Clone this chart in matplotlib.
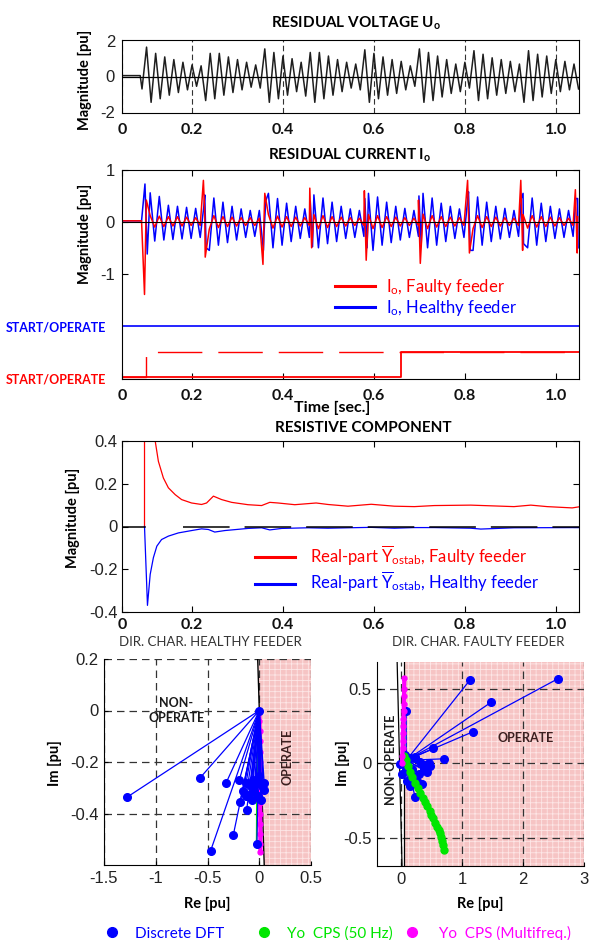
import numpy as np
import matplotlib
matplotlib.use('Agg')
import matplotlib.pyplot as plt
from matplotlib.lines import Line2D

plt.rcParams['font.family'] = ['Lato', 'DejaVu Sans']
plt.rcParams['mathtext.fontset'] = 'custom'
plt.rcParams['mathtext.rm'] = 'Lato'
plt.rcParams['mathtext.it'] = 'Lato:italic'
plt.rcParams['mathtext.bf'] = 'Lato:bold'
plt.rcParams['hatch.linewidth'] = 0.6

# ---------------- data ----------------
T0, T1 = 0.046, 1.051
time_ticks = [T0, 0.2, 0.4, 0.6, 0.8, 1.0]
time_labels = ['0', '0.2', '0.4', '0.6', '0.8', '1.0']

# residual voltage, extreme value of every half cycle
u_pre_t = [0.046, 0.086]
u_pre = [0.05, 0.05]
u_peaks = [1.65, 1.30, 1.10, 0.95, 0.80, 0.65, 0.60,
           1.30, 1.30, 1.10, 0.95, 0.80, 0.65,
           1.55, 1.35, 1.15, 1.00, 0.80,
           1.35, 1.35, 1.15, 0.95, 0.80, 0.70,
           1.50, 1.30, 1.10, 0.95, 0.85, 0.60,
           1.55, 1.35, 1.15, 0.95, 0.70, 0.80,
           1.45, 1.25, 1.05, 0.95, 0.85, 0.70,
           1.45, 1.25, 1.15, 0.95, 0.85, 0.70]
u_troughs = [-0.70,
             -1.45, -1.25, -1.05, -0.90, -0.75, -0.55, -1.35,
             -1.25, -1.05, -0.90, -0.75, -0.60, -0.65,
             -1.45, -1.25, -1.05, -0.85, -1.10,
             -1.45, -1.25, -1.05, -0.85, -0.65, -0.75,
             -1.45, -1.25, -1.05, -0.95, -0.75, -0.55,
             -1.45, -1.35, -1.15, -0.95, -0.85, -0.65,
             -1.35, -1.25, -1.05, -0.95, -0.85, -1.45,
             -1.35, -1.15, -0.95, -0.85, -0.75, -0.70]

# residual currents
i_pre_t = [0.046, 0.089]
i_pre = [0.02, 0.02]
ih_peaks = [0.56, 0.49, 0.32, 0.30, 0.28, 0.26,
            0.52, 0.46, 0.38, 0.30, 0.25, 0.22, 0.22,
            0.55, 0.45, 0.36, 0.30, 0.25,
            0.52, 0.46, 0.38, 0.30, 0.25, 0.22,
            0.55, 0.48, 0.38, 0.30, 0.26, 0.22,
            0.55, 0.46, 0.36, 0.30, 0.25,
            0.58, 0.48, 0.38, 0.30, 0.26, 0.22,
            0.55, 0.46, 0.36, 0.30, 0.25, 0.22,
            0.45]
ih_troughs = [-0.37, -0.35, -0.34, -0.33, -0.32, -0.30,
              -0.55, -0.45, -0.40, -0.35, -0.30, -0.28, -0.28,
              -0.50, -0.45, -0.38, -0.32, -0.30,
              -0.50, -0.42, -0.38, -0.32, -0.30, -0.28,
              -0.55, -0.45, -0.40, -0.35, -0.30, -0.28,
              -0.50, -0.45, -0.38, -0.32, -0.30,
              -0.55, -0.45, -0.38, -0.33, -0.30, -0.28,
              -0.50, -0.45, -0.38, -0.32, -0.30, -0.28]
if_peaks = [0.12, 0.11, 0.10, 0.10, 0.09, 0.08,
            0.15, 0.12, 0.10, 0.09, 0.08, 0.08, 0.07,
            0.14, 0.11, 0.10, 0.09, 0.08,
            0.14, 0.12, 0.10, 0.09, 0.08, 0.07,
            0.14, 0.12, 0.10, 0.09, 0.08, 0.07,
            0.15, 0.12, 0.10, 0.09, 0.08,
            0.14, 0.12, 0.10, 0.09, 0.08, 0.07,
            0.14, 0.12, 0.10, 0.09, 0.08, 0.07,
            0.10]
if_troughs = [-0.10, -0.09, -0.08, -0.08, -0.07, -0.07,
              -0.14, -0.11, -0.09, -0.08, -0.07, -0.07, -0.06,
              -0.12, -0.10, -0.09, -0.08, -0.07,
              -0.13, -0.11, -0.09, -0.08, -0.07, -0.07,
              -0.13, -0.11, -0.09, -0.08, -0.07, -0.07,
              -0.13, -0.10, -0.09, -0.08, -0.07,
              -0.13, -0.11, -0.09, -0.08, -0.07, -0.07,
              -0.12, -0.10, -0.09, -0.08, -0.07, -0.07]
spike_t = [0.0955, 0.225, 0.356, 0.459, 0.579, 0.698, 0.806, 0.923, 1.043]
if_spike_a = [-1.40, 0.80, -0.82, 0.65, 0.60, 0.42, 0.80, 0.80, 0.62]
if_spike_b = [0.42, -0.68, 0.55, -0.50, -0.74, -0.80, -0.60, -0.55, -0.60]
ih_spike_a = [0.73, 0.30, -0.55, 0.40, 0.45, 0.50, 0.50, 0.45, 0.45]
ih_spike_b = [-0.62, -0.50, 0.40, -0.48, -0.50, -0.42, -0.55, -0.42, -0.50]

# start / operate signals (0 = off, 1 = on)
start_t = [T0, 0.099, T1]
start_state = [0, 1, 1]
operate_t = [T0, 0.659, T1]
operate_state = [0, 1, 1]
healthy_t = [T0, T1]
healthy_state = [0, 0]

# resistive component
res_f_t = [0.0955, 0.0956, 0.105, 0.119, 0.126, 0.137, 0.148, 0.163, 0.177, 0.199,
           0.221, 0.232, 0.247, 0.265, 0.287, 0.323, 0.353, 0.371, 0.389, 0.426,
           0.473, 0.499, 0.543, 0.594, 0.645, 0.689, 0.733, 0.813, 0.908, 0.945,
           0.981, 1.036, 1.051]
res_f = [0.0, 1.50, 0.70, 0.40, 0.305, 0.227, 0.181, 0.149, 0.126, 0.110,
         0.103, 0.110, 0.142, 0.126, 0.113, 0.102, 0.098, 0.113, 0.110, 0.102,
         0.110, 0.103, 0.095, 0.104, 0.095, 0.093, 0.098, 0.100, 0.093, 0.100,
         0.093, 0.087, 0.092]
res_h_t = [0.0955, 0.102, 0.108, 0.115, 0.1226, 0.133, 0.148, 0.170, 0.199, 0.221,
           0.236, 0.250, 0.272, 0.323, 0.353, 0.371, 0.397, 0.455, 0.499, 0.543,
           0.594, 0.645, 0.689, 0.733, 0.813, 0.835, 0.908, 1.051]
res_h = [0.0, -0.369, -0.224, -0.146, -0.092, -0.061, -0.045, -0.030, -0.019, -0.011,
         -0.014, -0.026, -0.019, -0.009, -0.006, -0.016, -0.009, -0.006, -0.008, -0.006,
         -0.004, -0.008, -0.005, -0.005, -0.008, -0.012, -0.006, -0.005]
res_zero_solid_t = [T0, 0.0955]
res_zero_dash_t = [0.181, T1]

# directional characteristic, healthy feeder
h_hub = (0.0, 0.0)
h_dft_re = [0.0, -1.275, -0.577, -0.32, -0.471, -0.25, -0.121, -0.186, -0.022, 0.016,
            -0.192, -0.128, -0.080, -0.048, -0.096, -0.160, -0.032, 0.048, 0.042,
            -0.016, -0.128, -0.064, 0.0, 0.022, -0.074]
h_dft_im = [0.0, -0.336, -0.264, -0.281, -0.546, -0.482, -0.385, -0.355, -0.517, -0.349,
            -0.269, -0.281, -0.294, -0.314, -0.327, -0.314, -0.281, -0.281, -0.307,
            -0.333, -0.333, -0.269, -0.256, -0.294, -0.346]
h_cps_re = [-0.005, -0.012, -0.018, -0.022, -0.025, -0.026, -0.027]
h_cps_im = [0.0, -0.10, -0.20, -0.30, -0.40, -0.48, -0.52]
h_mf_re = [0.0, 0.002, 0.004, 0.005, 0.006, 0.007, 0.008, 0.008, 0.009, 0.009,
           0.010, 0.010, 0.011, 0.011, 0.012]
h_mf_im = [0.0, -0.04, -0.08, -0.12, -0.16, -0.20, -0.24, -0.28, -0.32, -0.36,
           -0.40, -0.44, -0.48, -0.52, -0.55]
h_bound_re = [-0.015, 0.048]
h_bound_im = [0.2, -0.6]

# directional characteristic, faulty feeder
f_hub = (0.09, 0.02)
f_dft_re = [2.57, 1.136, 1.48, 1.19, 0.535, 0.715, 0.087, -0.02, 0.016, 0.087,
            0.109, 0.153, 0.235, 0.344, 0.208, 0.29, 0.372, 0.454, 0.426, 0.317,
            0.235, 0.153, 0.07, 0.1, 0.18, 0.26, 0.4, 0.48]
f_dft_im = [0.567, 0.561, 0.41, 0.213, 0.10, 0.03, 0.348, -0.004, -0.072, -0.04,
            -0.119, -0.152, -0.229, -0.139, -0.094, -0.072, -0.04, 0.004, -0.058, 0.011,
            0.045, 0.034, 0.056, 0.0, -0.04, -0.12, -0.01, -0.02]
f_cps_re = [0.06, 0.087, 0.12, 0.153, 0.19, 0.235, 0.275, 0.317, 0.36, 0.40, 0.435,
            0.47, 0.50, 0.535, 0.565, 0.59, 0.62, 0.645, 0.66, 0.672, 0.685, 0.70]
f_cps_im = [0.05, 0.02, -0.02, -0.06, -0.095, -0.13, -0.165, -0.20, -0.23, -0.26, -0.29,
            -0.32, -0.345, -0.37, -0.40, -0.43, -0.45, -0.47, -0.495, -0.52, -0.55, -0.585]
f_mf_re = [0.02, 0.025, 0.03, 0.033, 0.036, 0.04, 0.043, 0.046, 0.05, 0.052, 0.055, 0.057]
f_mf_im = [0.0, 0.05, 0.10, 0.15, 0.20, 0.25, 0.30, 0.35, 0.40, 0.45, 0.50, 0.57]
f_bound_re = [-0.06, 0.02]
f_bound_im = [0.68, -0.69]
f_region_re = 0.055

legend_labels = ['Discrete DFT' + '\u00a0' * 5, 'Yo  CPS (50 Hz)',
                 '\u00a0Yo  CPS (Multifreq.)']

RED, BLUE, GREEN, MAG = '#ff0000', '#0000ff', '#00e600', '#ff00ff'
PINK, PINK_HATCH = '#f6c4c4', '#fde6e6'


def merge(*parts):
    t = np.concatenate([np.asarray(p[0], float) for p in parts])
    v = np.concatenate([np.asarray(p[1], float) for p in parts])
    order = np.argsort(t, kind='stable')
    return t[order], v[order]


W, H = 590, 940
fig = plt.figure(figsize=(W / 100, H / 100), dpi=100)


def rect(l, t, r, b):
    return [l / W, 1 - b / H, (r - l) / W, (b - t) / H]


def ftext(x, y, s, **kw):
    fig.text(x / W, 1 - y / H, s, ha=kw.pop('ha', 'center'), va=kw.pop('va', 'center'), **kw)


def time_axis(ax, pad):
    ax.set_xlim(T0, T1)
    ax.set_xticks(time_ticks, time_labels)
    plt.setp(ax.get_xticklabels(), fontweight='bold', fontsize=11.5, color='#111111')
    ax.tick_params(axis='x', pad=pad)


num_font = dict(family='Liberation Sans', fontsize=12, color='#222222')

# ---------------- residual voltage ----------------
ax1 = fig.add_axes(rect(122, 40, 579, 113))
n = np.arange
u_t, u_v = merge((u_pre_t, u_pre),
                 (0.10 + 0.02 * n(len(u_peaks)), u_peaks),
                 (0.09 + 0.02 * n(len(u_troughs)), u_troughs))
ax1.plot(u_t, u_v, color='#1e1e1e', lw=1.1)
ax1.axhline(0, color='k', lw=0.9)
ax1.set_ylim(-2.05, 2.05)
ax1.set_yticks([-2, 0, 2], ['-2', '0', '2'], **num_font)
time_axis(ax1, 7)
ax1.grid(axis='x', ls=(0, (5, 3)), color='#333333', lw=0.8)
ax1.tick_params(length=0)
ax1.tick_params(axis='y', pad=5)

# ---------------- residual current ----------------
ax2 = fig.add_axes(rect(122, 170, 579, 379))
pk_t = 0.108 + 0.02 * n(len(ih_peaks))
tr_t = 0.118 + 0.02 * n(len(ih_troughs))
sp = np.asarray(spike_t)
ih_t, ih_v = merge((i_pre_t, i_pre), (pk_t, ih_peaks), (tr_t, ih_troughs),
                   (sp + 0.001, ih_spike_a), (sp + 0.006, ih_spike_b))
if_t, if_v = merge((i_pre_t, i_pre), (pk_t, if_peaks), (tr_t, if_troughs),
                   (sp, if_spike_a), (sp + 0.004, if_spike_b))
ax2.plot(ih_t, ih_v, color=BLUE, lw=1.1)
ax2.plot(if_t, if_v, color=RED, lw=1.1)
ax2.axhline(0, color='k', lw=0.8, zorder=3)

# start / operate traces
ax2.plot(healthy_t, -2.0 + 0.5 * np.asarray(healthy_state), color=BLUE, lw=1.2,
         drawstyle='steps-post')
ax2.plot(start_t, -3.0 + 0.5 * np.asarray(start_state), color=RED, lw=1.0,
         drawstyle='steps-post', dashes=(32, 11.5))
ax2.plot(operate_t, -3.0 + 0.5 * np.asarray(operate_state), color=RED, lw=1.3,
         drawstyle='steps-post')

ax2.set_ylim(-3.03, 1.0)
ax2.set_yticks([-1, 0, 1], ['-1', '0', '1'], **num_font)
time_axis(ax2, 7)
ax2.tick_params(direction='in', top=True, right=True, length=4)
ax2.tick_params(axis='y', pad=5)
ax2.legend([Line2D([], [], color=RED, lw=2.2), Line2D([], [], color=BLUE, lw=2.2)],
           [r'$\mathrm{I_o}$, Faulty feeder', r'$\mathrm{I_o}$, Healthy feeder'],
           loc='upper left', bbox_to_anchor=(0.465, 0.49), frameon=False, fontsize=12,
           handlelength=2.4, handletextpad=0.7, labelspacing=0.1, borderpad=0,
           borderaxespad=0, labelcolor=[RED, BLUE])

# ---------------- resistive component ----------------
ax3 = fig.add_axes(rect(122, 441, 579, 612))
ax3.plot(res_f_t, res_f, color=RED, lw=0.9)
ax3.plot(res_h_t, res_h, color=BLUE, lw=0.9)
ax3.plot(res_zero_solid_t, [0, 0], color='k', lw=1.1, zorder=3)
ax3.plot(res_zero_dash_t, [0, 0], color='k', lw=1.1, dashes=(30.5, 9.8), zorder=3)
ax3.set_ylim(-0.4, 0.4)
ax3.set_yticks([-0.4, -0.2, 0, 0.2, 0.4], ['-0.4', '-0.2', '0', '0.2', '0.4'], **num_font)
time_axis(ax3, 4)
ax3.tick_params(direction='in', top=True, right=True, length=4)
ax3.tick_params(axis='y', pad=3)
ax3.legend([Line2D([], [], color=RED, lw=2.2), Line2D([], [], color=BLUE, lw=2.2)],
           [r'Real-part $\mathrm{\overline{Y}_{ostab}}$, Faulty feeder',
            r'Real-part $\mathrm{\overline{Y}_{ostab}}$, Healthy feeder'],
           loc='upper left', bbox_to_anchor=(0.292, 0.40), frameon=False, fontsize=12,
           handlelength=2.4, handletextpad=0.9, labelspacing=0.15, borderpad=0,
           borderaxespad=0, labelcolor=[RED, BLUE])


# ---------------- directional characteristics ----------------
def dir_axes(ax):
    for s in ('top', 'right'):
        ax.spines[s].set_visible(False)
    ax.set_axisbelow('line')
    ax.grid(True, ls=(0, (6, 4)), color='#333333', lw=0.9)
    ax.tick_params(direction='in', length=3, pad=4)
    for lbl in ax.get_xticklabels() + ax.get_yticklabels():
        lbl.set_fontfamily('Liberation Sans')
        lbl.set_fontsize(12)
        lbl.set_color('#222222')


ax4 = fig.add_axes(rect(104, 659, 311, 865))
ax4.set_xlim(-1.5, 0.5)
ax4.set_ylim(-0.6, 0.2)
ax4.set_xticks([-1.5, -1, -0.5, 0, 0.5], ['-1.5', '-1', '-0.5', '0', '0.5'])
ax4.set_yticks([-0.4, -0.2, 0, 0.2], ['-0.4', '-0.2', '0', '0.2'])
ax4.fill_betweenx(h_bound_im, h_bound_re, 0.5, facecolor=PINK, edgecolor=PINK_HATCH,
                  hatch='+++', lw=0, zorder=1)
ax4.plot(h_bound_re, h_bound_im, color='k', lw=1.0, zorder=1.6)
ax4.plot(h_mf_re, h_mf_im, color=MAG, lw=3, marker='o', ms=3.5, zorder=2)
ax4.plot(h_cps_re, h_cps_im, color=GREEN, lw=1.0, zorder=2.1)
for re, im in zip(h_dft_re, h_dft_im):
    ax4.plot([h_hub[0], re], [h_hub[1], im], color=BLUE, lw=0.9, zorder=2.2)
ax4.plot(h_dft_re, h_dft_im, ls='none', marker='o', ms=5.5, color=BLUE, zorder=2.3)
ax4.text(-0.8, 0.0, 'NON-\nOPERATE', ha='center', va='center', fontsize=9,
         fontweight='bold', color='#1a1a1a', linespacing=1.25)
ax4.text(0.27, -0.18, 'OPERATE', ha='center', va='center', fontsize=9,
         fontweight='bold', color='#3a1f1f', rotation=90)
dir_axes(ax4)

ax5 = fig.add_axes(rect(377, 662, 584, 866))
ax5.set_xlim(-0.39, 3.0)
ax5.set_ylim(-0.69, 0.68)
ax5.set_xticks([0, 1, 2, 3], ['0', '1', '2', '3'])
ax5.set_yticks([-0.5, 0, 0.5], ['-0.5', '0', '0.5'])
ax5.axvspan(f_region_re, 3.0, facecolor=PINK, edgecolor=PINK_HATCH, hatch='+++',
            lw=0, zorder=1)
ax5.axvline(f_region_re, color='k', lw=0.9, zorder=1.6)
ax5.plot(f_bound_re, f_bound_im, color='k', lw=0.9, zorder=1.6)
for re, im in zip(f_dft_re, f_dft_im):
    ax5.plot([f_hub[0], re], [f_hub[1], im], color=BLUE, lw=0.9, zorder=2)
ax5.plot(f_dft_re, f_dft_im, ls='none', marker='o', ms=5.5, color=BLUE, zorder=2.05)
ax5.plot(f_cps_re, f_cps_im, color=GREEN, lw=2, marker='o', ms=5, zorder=2.1)
ax5.plot(f_mf_re, f_mf_im, color=MAG, lw=3, marker='o', ms=3.5, zorder=2.2)
ax5.text(-0.175, 0.03, 'NON-OPERATE', ha='center', va='center', fontsize=9,
         fontweight='bold', color='#1a1a1a', rotation=90)
ax5.text(2.04, 0.17, 'OPERATE', ha='center', va='center', fontsize=9,
         fontweight='bold', color='#3a1f1f')
dir_axes(ax5)

# ---------------- titles and labels ----------------
ftext(356, 23, r'RESIDUAL VOLTAGE $\mathbf{U_o}$', fontsize=11, fontweight='bold')
ftext(350, 155, r'RESIDUAL CURRENT $\mathbf{I_o}$', fontsize=11, fontweight='bold')
ftext(363, 428, 'RESISTIVE COMPONENT', fontsize=11, fontweight='bold')
ftext(210, 642, 'DIR. CHAR. HEALTHY FEEDER', fontsize=9.5, color='#333333')
ftext(478, 642, 'DIR. CHAR. FAULTY FEEDER', fontsize=9.5, color='#333333')
ftext(85, 80, 'Magnitude [pu]', fontsize=10.5, fontweight='bold', rotation=90)
ftext(85, 234, 'Magnitude [pu]', fontsize=10.5, fontweight='bold', rotation=90)
ftext(73, 518, 'Magnitude [pu]', fontsize=10.5, fontweight='bold', rotation=90)
ftext(106, 327, 'START/OPERATE', ha='right', fontsize=9, fontweight='bold', color=BLUE)
ftext(106, 380, 'START/OPERATE', ha='right', fontsize=9, fontweight='bold', color=RED)
ftext(332, 408, 'Time [sec.]', fontsize=11.5, fontweight='bold')
ftext(55, 763, 'Im [pu]', fontsize=10.5, fontweight='bold', rotation=90)
ftext(343, 763, 'Im [pu]', fontsize=10.5, fontweight='bold', rotation=90)
ftext(207, 904, 'Re [pu]', fontsize=10.5, fontweight='bold')
ftext(480, 904, 'Re [pu]', fontsize=10.5, fontweight='bold')

handles = [Line2D([], [], ls='none', marker='o', ms=7, color=c) for c in (BLUE, GREEN, MAG)]
fig.legend(handles, legend_labels,
           loc='center', bbox_to_anchor=(338 / W, 1 - 933 / H), ncol=3, frameon=False,
           fontsize=11, handlelength=1.0, handletextpad=1.0, columnspacing=0.8,
           labelcolor=[BLUE, GREEN, MAG])

fig.savefig('out.png', dpi=100)
plt.close(fig)
